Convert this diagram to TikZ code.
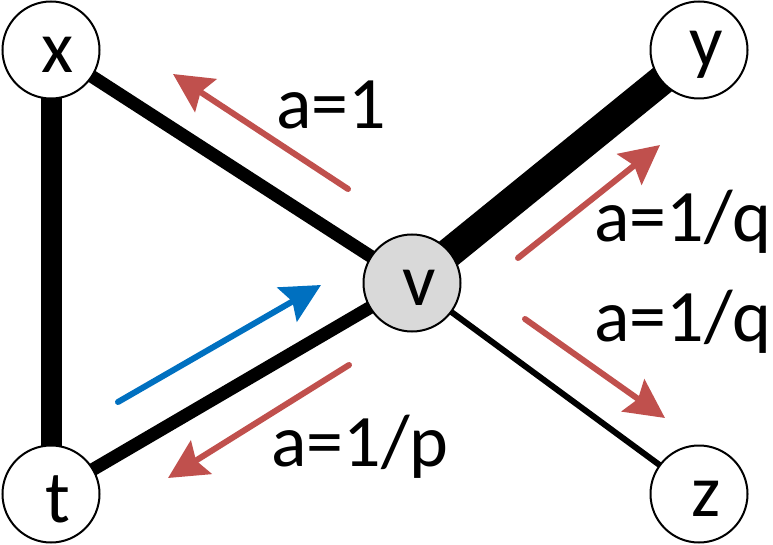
\documentclass[tikz,border=0pt]{standalone}
\usepackage{fontspec}
\setmainfont{Carlito}
\usetikzlibrary{arrows.meta,backgrounds}
\definecolor{brick}{HTML}{C0504D}
\definecolor{ocean}{HTML}{0070C0}
\definecolor{vgray}{HTML}{D9D9D9}

\begin{document}
\begin{tikzpicture}[x=1pt,y=-1pt,>={Stealth[length=39pt,width=39pt,inset=6pt]},
 vert/.style={circle,draw,line width=2pt,fill=white,minimum size=97pt,inner sep=0pt},
 tag/.style={font=\fontsize{74}{74}\selectfont,inner sep=0pt,xshift=7pt,yshift=-5pt},
 walk/.style={brick,line width=6pt,line cap=round,->},
 lbl/.style={font=\fontsize{74}{74}\selectfont,inner sep=0pt}]
 \useasboundingbox (0,0) rectangle (773,545);
 % vertices
 \node[vert,label={[tag]center:x}] (x) at (51,50) {};
 \node[vert,label={[tag]center:y}] (y) at (699,50) {};
 \node[vert,fill=vgray,label={[tag]center:v}] (v) at (412,283) {};
 \node[vert,label={[tag]center:t}] (t) at (51,494) {};
 \node[vert,label={[tag]center:z}] (z) at (699,494) {};
 % edges, weight shown by width
 \begin{pgfonlayer}{background}
  \draw[line width=21pt] (x.center) -- (t.center);
  \draw[line width=13pt] (x.center) -- (v.center);
  \draw[line width=13pt] (t.center) -- (v.center);
  \draw[line width=30pt] (v.center) -- (y.center);
  \draw[line width=6pt] (v.center) -- (z.center);
 \end{pgfonlayer}
 % walk directions
 \draw[ocean,line width=6pt,line cap=round,->] (118,402) -- (321,285);
 \draw[walk] (348,189) -- (173,74);
 \draw[walk] (518,258) -- (660,145);
 \draw[walk] (525,319) -- (665,418);
 \draw[walk] (349,365) -- (168,478);
 % probabilities
 \node[lbl] (a1) at (331,105) {a=1};
 \node[lbl] (aq1) at (683,222) {a=1/q};
 \node[lbl] (aq2) at (683,322) {a=1/q};
 \node[lbl] (ap) at (360,447) {a=1/p};
\end{tikzpicture}
\end{document}
